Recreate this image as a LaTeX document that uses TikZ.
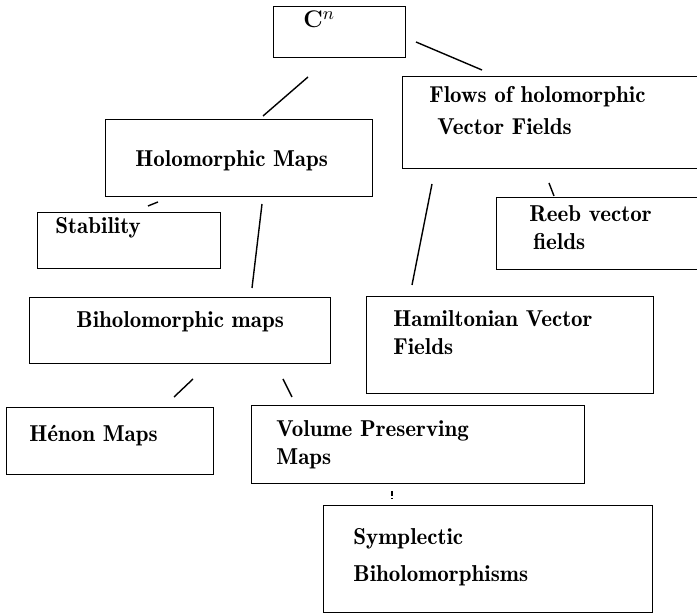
\documentclass[tikz,border=0pt]{standalone}
\begin{document}
\begin{tikzpicture}[x=0.5pt,y=-0.5pt,
  box/.style={draw, line width=0.7pt, rectangle, inner sep=0pt, anchor=north west},
  lbl/.style={anchor=base west, inner sep=0pt, font=\fontsize{11.5}{13}\fontseries{b}\selectfont},
  link/.style={line width=0.7pt}]
\useasboundingbox (0,0) rectangle (697,614);
\clip (0,0) rectangle (697,614);
% boxes
\node[box, minimum width=66pt, minimum height=25.5pt] (cn) at (273,6) {};
\node[box, minimum width=154pt, minimum height=46pt] (flows) at (402,76) {};
\node[box, minimum width=133.5pt, minimum height=38.5pt] (holo) at (105,119) {};
\node[box, minimum width=91.5pt, minimum height=28pt] (stab) at (37,212) {};
\node[box, minimum width=150.5pt, minimum height=33pt] (biholo) at (29,297) {};
\node[box, minimum width=143.5pt, minimum height=48.5pt] (ham) at (366,296) {};
\node[box, minimum width=107pt, minimum height=36pt] (reeb) at (496,197) {};
\node[box, minimum width=103.5pt, minimum height=33.5pt] (henon) at (6,407) {};
\node[box, minimum width=166.5pt, minimum height=39pt] (vol) at (251,405) {};
\node[box, minimum width=164.5pt, minimum height=53.5pt] (symp) at (323,505) {};
% labels
\node[lbl, font=\fontsize{12.5}{14}\fontseries{b}\selectfont] (cnT) at (303,28) {$\mathbf{C}^n$};
\node[lbl] (flowsT1) at (429,103) {Flows of holomorphic};
\node[lbl] (flowsT2) at (437,135) {Vector Fields};
\node[lbl] (holoT) at (135,167) {Holomorphic Maps};
\node[lbl] (stabT) at (55,234) {Stability};
\node[lbl] (biholoT) at (76,328) {Biholomorphic maps};
\node[lbl] (hamT1) at (393,327) {Hamiltonian Vector};
\node[lbl] (hamT2) at (393,355) {Fields};
\node[lbl] (reebT1) at (529,222) {Reeb vector};
\node[lbl] (reebT2) at (533,250) {fields};
\node[lbl] (henonT) at (29,442) {Hénon Maps};
\node[lbl] (volT1) at (276,437) {Volume Preserving};
\node[lbl] (volT2) at (276,465) {Maps};
\node[lbl] (sympT1) at (353,545) {Symplectic};
\node[lbl] (sympT2) at (353,582) {Biholomorphisms};
% connector end points
\coordinate (a1) at (416,42);  \coordinate (a2) at (482,70);
\coordinate (b1) at (308,77);  \coordinate (b2) at (263,116);
\coordinate (c1) at (158,202); \coordinate (c2) at (148,206);
\coordinate (d1) at (262,204); \coordinate (d2) at (252,288);
\coordinate (e1) at (432,184); \coordinate (e2) at (412,285);
\coordinate (f1) at (549,183); \coordinate (f2) at (554,196);
\coordinate (g1) at (193,379); \coordinate (g2) at (174,397);
\coordinate (h1) at (283,379); \coordinate (h2) at (292,397);
\coordinate (i1) at (392,491); \coordinate (i2) at (392,499);
% connectors
\draw[link] (a1) -- (a2);
\draw[link] (b1) -- (b2);
\draw[link] (c1) -- (c2);
\draw[link] (d1) -- (d2);
\draw[link] (e1) -- (e2);
\draw[link] (f1) -- (f2);
\draw[link] (g1) -- (g2);
\draw[link] (h1) -- (h2);
\draw[link, dash pattern=on 2.5pt off 1pt] (i1) -- (i2);
\end{tikzpicture}
\end{document}
